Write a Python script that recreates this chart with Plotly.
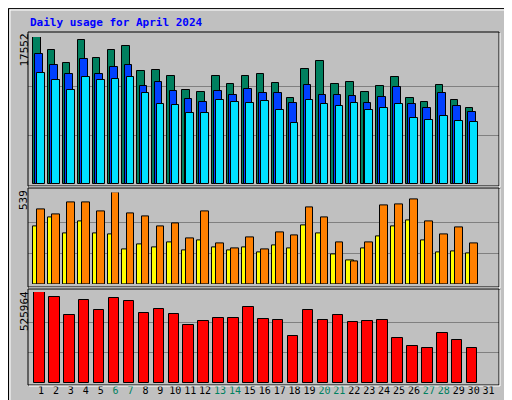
import plotly.graph_objects as go

days = list(range(1, 32))
weekend = [6, 7, 13, 14, 20, 21, 27, 28]
hits = [17552,15996,14480,17193,15039,15996,16475,13483,13603,12885,11209,10970,12885,11927,12885,13124,12047,10252,13722,14680,11927,12167,10970,11688,12765,10252,9773,11808,10013,9055]
files = [15518,14201,13124,14919,13124,13962,14201,11688,12167,11090,10132,9773,11090,10611,11329,10850,10850,9654,11808,10611,10611,10491,9654,10372,11568,9534,9055,10850,9295,8577]
pages = [13244,12406,11209,12765,12406,12526,12765,10850,9534,9414,8457,8457,10013,9773,9654,9893,8816,7260,10013,9534,9295,9654,8816,9055,9534,7859,7619,8098,7500,7380]
sites = [339,392,298,368,298,292,204,233,216,245,198,257,216,198,216,186,227,210,345,298,174,139,210,280,339,374,257,186,192,180]
visits = [439,410,480,480,427,539,416,398,339,357,269,427,239,210,274,204,304,286,451,392,245,133,245,463,468,498,368,292,333,239]
kbytes = [525964,495250,391594,477974,420387,489491,472215,403112,426147,397353,334007,357042,374318,374318,437665,368560,362802,270662,420387,362802,391594,351283,357042,362802,259144,213074,201557,287939,247628,201557]

x = days[:30]
fig = go.Figure()
def bar(y, color, off, w, xa, ya):
    fig.add_trace(go.Bar(x=x, y=y, marker=dict(color=color, line=dict(color="black", width=1)),
                         offset=off, width=w, xaxis=xa, yaxis=ya, showlegend=False, hoverinfo="skip"))
bar(hits, "#00805F", -0.54, 0.51, "x", "y")
bar(files, "#0040FF", -0.38, 0.51, "x", "y")
bar(pages, "#00E0FF", -0.25, 0.51, "x", "y")
bar(sites, "#FFFF00", -0.54, 0.51, "x2", "y2")
bar(visits, "#FF8000", -0.25, 0.51, "x2", "y2")
bar(kbytes, "#FF0000", -0.45, 0.7, "x3", "y3")

ticktext = [f"<span style='color:#00805F'>{d}</span>" if d in weekend else str(d) for d in days]
xr = [0.13, 31.7]
common_x = dict(range=xr, showgrid=False, zeroline=False, fixedrange=True, domain=[20/512, 491/512], automargin=False)
fig.update_layout(
    xaxis=dict(**common_x, anchor="y", showticklabels=False, ticks=""),
    xaxis2=dict(**common_x, anchor="y2", showticklabels=False, ticks=""),
    xaxis3=dict(**common_x, anchor="y3", tickvals=days, ticktext=ticktext, ticks="", tickangle=0,
                tickfont=dict(family="DejaVu Sans Mono", size=10, color="black")),
)
def yax(mx, dom, anchor):
    return dict(range=[0, mx], domain=dom, anchor=anchor, tickvals=[mx/3, 2*mx/3], showticklabels=False,
                gridcolor="#808080", gridwidth=1, zeroline=False, ticks="", automargin=False)
fig.update_layout(
    yaxis=yax(17552, [0.56, 0.9275], "x"),
    yaxis2=yax(539, [0.31, 0.539], "x2"),
    yaxis3=yax(525964, [0.0617, 0.29], "x3"),
    barmode="overlay", bargap=0,
    width=512, height=400, margin=dict(l=0, r=0, t=0, b=0, autoexpand=False),
    paper_bgcolor="#C0C0C0", plot_bgcolor="#C0C0C0",
)
shapes = []
def px(v): return v/512
def py(v): return 1 - v/400
for (t, b) in [(24, 178), (180, 279), (281, 377)]:
    shapes.append(dict(type="rect", xref="paper", yref="paper", x0=px(20), x1=px(491), y0=py(b), y1=py(t),
                       line=dict(color="black", width=1)))
    shapes.append(dict(type="line", xref="paper", yref="paper", x0=px(21), x1=px(492), y0=py(b+1), y1=py(b+1),
                       line=dict(color="white", width=1)))
    shapes.append(dict(type="line", xref="paper", yref="paper", x0=px(492), x1=px(492), y0=py(b+1), y1=py(t+1),
                       line=dict(color="white", width=1)))
shapes.append(dict(type="rect", xref="paper", yref="paper", x0=0.001, x1=0.999, y0=0.001, y1=0.999,
                   line=dict(color="black", width=1)))
shapes.append(dict(type="rect", xref="paper", yref="paper", x0=px(2), x1=px(507), y0=py(396), y1=py(2),
                   line=dict(color="white", width=1)))
shapes.append(dict(type="line", xref="paper", yref="paper", x0=px(3), x1=px(508), y0=py(396), y1=py(396),
                   line=dict(color="#808080", width=2)))
shapes.append(dict(type="line", xref="paper", yref="paper", x0=px(508), x1=px(508), y0=py(396), y1=py(3),
                   line=dict(color="#808080", width=2)))
fig.update_layout(shapes=shapes)

mono = "DejaVu Sans Mono"
ann = [
    dict(text="<b>Daily usage for April 2024</b>", x=px(20), y=py(15), xanchor="left", yanchor="middle",
         font=dict(family=mono, size=11, color="#0000FF")),
    dict(text="17552", x=px(16), y=py(24), textangle=-90, xanchor="center", yanchor="top",
         font=dict(family=mono, size=11, color="black")),
    dict(text="539", x=px(16), y=py(180), textangle=-90, xanchor="center", yanchor="top",
         font=dict(family=mono, size=11, color="black")),
    dict(text="525964", x=px(16), y=py(281), textangle=-90, xanchor="center", yanchor="top",
         font=dict(family=mono, size=11, color="black")),
    dict(text="<span style='color:#00E0FF'>Pages</span> / <span style='color:#0040FF'>Files</span> / <span style='color:#00805F'>Hits</span>",
         x=px(501), y=py(24), textangle=-90, xanchor="center", yanchor="top", font=dict(family=mono, size=11, color="black")),
    dict(text="<span style='color:#FF8000'>Sites</span> / <span style='color:#FFFF00'>Visits</span>",
         x=px(501), y=py(277), textangle=-90, xanchor="center", yanchor="bottom", font=dict(family=mono, size=11, color="black")),
    dict(text="KBytes", x=px(501), y=py(376), textangle=-90, xanchor="center", yanchor="bottom",
         font=dict(family=mono, size=11, color="#FF0000")),
]
for a in ann:
    a.update(xref="paper", yref="paper", showarrow=False)
fig.update_layout(annotations=ann)
fig.write_html("out.html", config={"displayModeBar": False})
